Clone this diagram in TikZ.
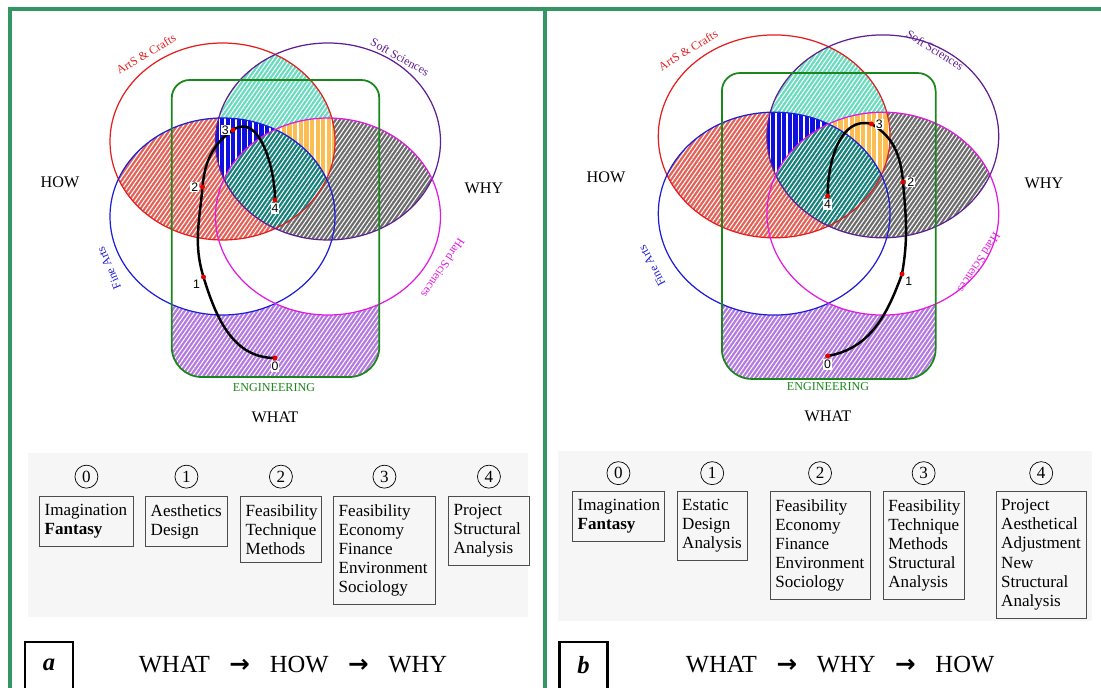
\documentclass[tikz,border=0pt]{standalone}
\usepackage{fontspec}
\setmainfont{Liberation Serif}
\newfontfamily\lblfont{Liberation Sans}
\newfontfamily\arrowfont{DejaVu Sans}
\usetikzlibrary{positioning,patterns.meta}

\definecolor{framegreen}{RGB}{52,150,100}
\definecolor{artsred}{RGB}{228,30,30}
\definecolor{softpurple}{RGB}{95,30,145}
\definecolor{fineblue}{RGB}{30,30,215}
\definecolor{hardmag}{RGB}{225,25,225}
\definecolor{enggreen}{RGB}{25,135,25}
\definecolor{salmon}{RGB}{226,98,88}
\definecolor{slate}{RGB}{108,108,108}
\definecolor{aqua}{RGB}{105,220,190}
\definecolor{deepblue}{RGB}{15,15,225}
\definecolor{amber}{RGB}{250,190,85}
\definecolor{deepteal}{RGB}{22,128,122}
\definecolor{lilac}{RGB}{180,120,225}
\definecolor{panelgray}{RGB}{246,246,246}

\tikzset{
  venn/.style={x radius=112.5, y radius=98.5},
  hatch/.style={fill=#1, postaction={pattern={Lines[angle=55,distance=2pt,line width=0.6pt]}, pattern color=white}},
  stripes/.style={fill=#1, postaction={pattern={Lines[angle=90,distance=3.2pt,line width=0.8pt]}, pattern color=white}},
  venline/.style={line width=0.7pt},
  setlbl/.style={font=\fontsize{6.8}{8}\selectfont},
  dirlbl/.style={font=\fontsize{9.2}{11}\selectfont},
  route/.style={line width=1.4pt, black},
  dot/.style={circle, fill=red!90!black, inner sep=0pt, minimum size=0.1cm},
  ptlbl/.style={font=\lblfont\fontsize{7}{8}\selectfont, fill=white, inner sep=0.6pt},
  stepbox/.style={draw=black!70, line width=0.5pt, anchor=north west, align=left,
    inner xsep=3pt, inner ysep=4.5pt, font=\fontsize{9.7}{10.9}\selectfont},
  stepnum/.style={draw, circle, line width=0.4pt, minimum size=0.46cm, inner sep=0pt,
    font=\fontsize{9.7}{11}\selectfont},
  tagbox/.style={draw, line width=1.2pt, anchor=north, minimum width=0.96cm, minimum height=1.2cm},
  flow/.style={font=\fontsize{14}{16}\selectfont},
}
\newcommand{\goes}{\hspace{0.8em}{\arrowfont\bfseries →}\hspace{0.8em}}

\begin{document}
\begin{tikzpicture}[x=0.02cm,y=-0.02cm]
\useasboundingbox (0,0) rectangle (1101,688);

% grey panels behind the steps
\fill[panelgray] (28,453) rectangle (528,617);
\fill[panelgray] (558,451) rectangle (1092,621);

% the two Venn diagrams
\foreach \cx/\cy/\sc in {275.25/179/1, 828.5/175/1.03}{
\begin{scope}[shift={(\cx,\cy)}, scale=\sc]
  \coordinate (ac) at (-52.75,-37.5);
  \coordinate (ss) at (52.75,-37.5);
  \coordinate (fa) at (-52.75,37.5);
  \coordinate (hs) at (52.75,37.5);

  \path[hatch=lilac] (-103.5,50) [rounded corners=0.36cm] -- (-103.5,-99) -- (104,-99) -- (104,50)
    [rounded corners=0.6cm] -- (104,198) -- (-103.5,198) -- cycle;
  \foreach \c in {ac,ss,fa,hs}
    \fill[white] (\c) ellipse[venn];

  \begin{scope}
    \clip (ac) ellipse[venn];
    \path[hatch=salmon] (fa) ellipse[venn];
  \end{scope}
  \begin{scope}
    \clip (ss) ellipse[venn];
    \path[hatch=slate] (hs) ellipse[venn];
  \end{scope}
  \begin{scope}
    \clip (ac) ellipse[venn];
    \path[hatch=aqua] (ss) ellipse[venn];
  \end{scope}
  \begin{scope}
    \clip (ac) ellipse[venn];
    \clip (ss) ellipse[venn];
    \path[stripes=deepblue] (fa) ellipse[venn];
  \end{scope}
  \begin{scope}
    \clip (ac) ellipse[venn];
    \clip (ss) ellipse[venn];
    \path[stripes=amber] (hs) ellipse[venn];
  \end{scope}
  \begin{scope}
    \clip (ac) ellipse[venn];
    \clip (ss) ellipse[venn];
    \clip (fa) ellipse[venn];
    \path[hatch=deepteal] (hs) ellipse[venn];
  \end{scope}

  \draw[venline, artsred] (ac) ellipse[venn];
  \draw[venline, softpurple] (ss) ellipse[venn];
  \draw[venline, fineblue] (fa) ellipse[venn];
  \draw[venline, hardmag] (hs) ellipse[venn];
  \draw[enggreen, line width=1pt] (-103.5,50) [rounded corners=0.36cm] -- (-103.5,-99) -- (104,-99) -- (104,50)
    [rounded corners=0.6cm] -- (104,198) -- (-103.5,198) -- cycle;
\end{scope}
}

% panel a: labels
\node[setlbl, artsred, rotate=31] (arta) at (146,54) {ArtS \& Crafts};
\node[setlbl, softpurple, rotate=-29] (softa) at (400,57) {Soft Sciences};
\node[setlbl, fineblue, rotate=113] (finea) at (109,268) {Fine Arts};
\node[setlbl, hardmag, rotate=236.5] (harda) at (443,268) {Hard Sciences};
\node[dirlbl] (howa) at (60,182) {HOW};
\node[dirlbl] (whya) at (484,188) {WHY};
\node[dirlbl] (whata) at (275,417) {WHAT};
\node[setlbl, enggreen, font=\fontsize{6.9}{8}\selectfont] (enga) at (274,388) {ENGINEERING};

% panel a: route
\coordinate (pa0) at (275,358);
\coordinate (pa1) at (203.5,277);
\coordinate (pa2) at (202.5,187);
\coordinate (pa3) at (233,130);
\coordinate (pa4) at (275,200);
\draw[route] (pa0) to[out=180,in=-73] (pa1) to[out=107,in=-95] (pa2)
  to[out=85,in=215] (pa3) to[out=35,in=90] (pa4);
\node[dot, label={[ptlbl]below:0}] (da0) at (pa0) {};
\node[dot, label={[ptlbl]below left:1}] (da1) at (pa1) {};
\node[dot, label={[ptlbl]left:2}] (da2) at (pa2) {};
\node[dot, label={[ptlbl]left:3}] (da3) at (pa3) {};
\node[dot, label={[ptlbl]below:4}] (da4) at (pa4) {};

% panel b: labels
\node[setlbl, artsred, rotate=31.5] (artb) at (688,50) {ArtS \& Crafts};
\node[setlbl, softpurple, rotate=-32] (softb) at (935,50) {Soft Sciences};
\node[setlbl, fineblue, rotate=118] (fineb) at (652,266) {Fine Arts};
\node[setlbl, hardmag, rotate=237.5] (hardb) at (979,263) {Hard Sciences};
\node[dirlbl] (howb) at (606,177) {HOW};
\node[dirlbl] (whyb) at (1044,183) {WHY};
\node[dirlbl] (whatb) at (828,416) {WHAT};
\node[setlbl, enggreen, font=\fontsize{6.9}{8}\selectfont] (engb) at (828,387) {ENGINEERING};

% panel b: route
\coordinate (pb0) at (827.6,356);
\coordinate (pb1) at (902,274);
\coordinate (pb2) at (903,182);
\coordinate (pb3) at (871.5,124);
\coordinate (pb4) at (827.6,196);
\draw[route] (pb0) to[out=10,in=250] (pb1) to[out=80,in=-85] (pb2)
  to[out=95,in=-30] (pb3) to[out=165,in=90] (pb4);
\node[dot, label={[ptlbl]below:0}] (db0) at (pb0) {};
\node[dot, label={[ptlbl]below right:1}] (db1) at (pb1) {};
\node[dot, label={[ptlbl]right:2}] (db2) at (pb2) {};
\node[dot, label={[ptlbl]right:3}] (db3) at (pb3) {};
\node[dot, label={[ptlbl]below:4}] (db4) at (pb4) {};

% panel a: steps
\node[stepbox, text width=1.669cm] (boxa0) at (39,496) {Imagination\\\textbf{Fantasy}};
\node[stepbox, text width=1.429cm] (boxa1) at (145,496) {Aesthetics\\Design};
\node[stepbox, text width=1.409cm] (boxa2) at (240,496) {Feasibility\\Technique\\Methods};
\node[stepbox, text width=1.829cm] (boxa3) at (333,496) {Feasibility\\Economy\\Finance\\Environment\\Sociology};
\node[stepbox, text width=1.409cm] (boxa4) at (448,496) {Project\\Structural\\Analysis};
\foreach \i in {0,...,4}
  \node[stepnum, above=0.15cm of boxa\i.north] (numa\i) {\i};

% panel b: steps
\node[stepbox, text width=1.629cm] (boxb0) at (572,491) {Imagination\\\textbf{Fantasy}};
\node[stepbox, text width=1.199cm] (boxb1) at (676.5,491) {Estatic\\Design\\Analysis};
\node[stepbox, text width=1.789cm] (boxb2) at (769.6,491) {Feasibility\\Economy\\Finance\\Environment\\Sociology};
\node[stepbox, text width=1.409cm] (boxb3) at (882.7,491) {Feasibility\\Technique\\Methods\\Structural\\Analysis};
\node[stepbox, text width=1.599cm] (boxb4) at (995.5,491) {Project\\Aesthetical\\Adjustment\\New\\Structural\\Analysis};
\foreach \i in {0,...,4}
  \node[stepnum, above=0.12cm of boxb\i.north] (numb\i) {\i};

% captions
\node[tagbox] (taga) at (49,641) {};
\node[flow, font=\fontsize{14}{16}\selectfont\bfseries\itshape] (leta) at (49,665) {a};
\node[flow] (flowa) at (293,665) {WHAT\goes HOW\goes WHY};
\node[tagbox] (tagb) at (583.5,641) {};
\node[flow, font=\fontsize{14}{16}\selectfont\bfseries\itshape] (letb) at (583.5,665) {b};
\node[flow] (flowb) at (840,665) {WHAT\goes WHY\goes HOW};

% frame
\draw[framegreen, line width=2.3pt] (10,700) -- (10,9) -- (1110,9);
\draw[framegreen, line width=2.3pt] (545,9) -- (545,700);
\end{tikzpicture}
\end{document}
